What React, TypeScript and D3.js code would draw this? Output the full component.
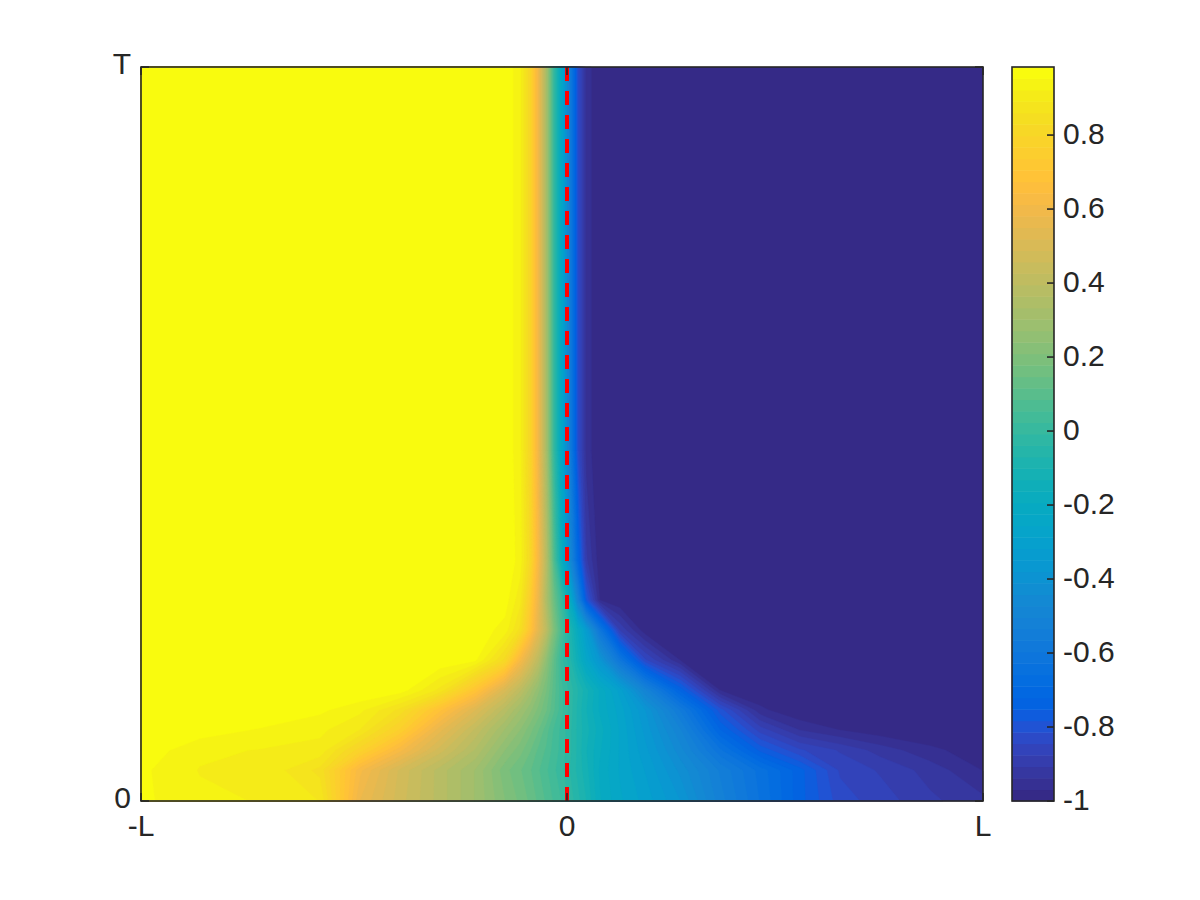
import React, { useMemo } from 'react';
import * as d3 from 'd3';

// Sampled columns, in units of L (-1 = -L, 1 = L)
const xGrid = [-1, -0.862, -0.721, -0.58, -0.486, -0.392, -0.298, -0.216, -0.146, -0.11, -0.087, -0.068, -0.049, -0.031, -0.012, 0.007, 0.026, 0.046, 0.079, 0.127, 0.188, 0.272, 0.368, 0.464, 0.56, 0.656, 0.752, 0.873, 1];
// Sampled rows, in units of T (0 = bottom, 1 = T)
const tGrid = [0, 0.042, 0.069, 0.097, 0.124, 0.151, 0.192, 0.233, 0.274, 0.328, 0.478, 1];

const uRow00 = [0.96, 0.93, 0.92, 0.89, 0.58, 0.47, 0.38, 0.3, 0.21, 0.17, 0.14, 0.11, 0.08, 0.05, 0.02, -0.02, -0.06, -0.1, -0.19, -0.25, -0.3, -0.38, -0.52, -0.63, -0.74, -0.83, -0.86, -0.9, -0.93];
const uRow01 = [0.96, 0.92, 0.92, 0.85, 0.62, 0.48, 0.38, 0.3, 0.19, 0.15, 0.12, 0.09, 0.06, 0.03, 0.0, -0.04, -0.08, -0.12, -0.2, -0.26, -0.32, -0.42, -0.54, -0.64, -0.74, -0.85, -0.88, -0.92, -0.97];
const uRow02 = [0.975, 0.93, 0.92, 0.91, 0.78, 0.62, 0.47, 0.36, 0.24, 0.19, 0.15, 0.11, 0.08, 0.04, 0.01, -0.03, -0.08, -0.13, -0.19, -0.26, -0.34, -0.46, -0.62, -0.76, -0.84, -0.88, -0.92, -0.96, -0.99];
const uRow03 = [0.984, 0.97, 0.95, 0.93, 0.89, 0.76, 0.56, 0.42, 0.3, 0.24, 0.19, 0.15, 0.1, 0.05, 0.01, -0.03, -0.08, -0.12, -0.18, -0.26, -0.36, -0.5, -0.72, -0.86, -0.94, -0.97, -0.99, -1, -1];
const uRow04 = [0.984, 0.984, 0.984, 0.96, 0.93, 0.85, 0.68, 0.52, 0.38, 0.3, 0.25, 0.2, 0.15, 0.09, 0.03, -0.02, -0.08, -0.13, -0.2, -0.27, -0.38, -0.57, -0.8, -0.96, -1, -1, -1, -1, -1];
const uRow05 = [0.984, 0.984, 0.984, 0.984, 0.984, 0.97, 0.88, 0.7, 0.5, 0.4, 0.32, 0.25, 0.18, 0.1, 0.03, -0.02, -0.07, -0.12, -0.2, -0.3, -0.5, -0.73, -0.97, -1, -1, -1, -1, -1, -1];
const uRow06 = [0.984, 0.984, 0.984, 0.984, 0.984, 0.984, 0.98, 0.96, 0.82, 0.62, 0.5, 0.4, 0.25, 0.12, 0.0, -0.06, -0.15, -0.25, -0.38, -0.6, -0.84, -0.97, -1, -1, -1, -1, -1, -1, -1];
const uRow07 = [0.984, 0.984, 0.984, 0.984, 0.984, 0.984, 0.984, 0.975, 0.94, 0.85, 0.7, 0.55, 0.4, 0.2, 0.05, -0.08, -0.2, -0.33, -0.6, -0.88, -0.99, -1, -1, -1, -1, -1, -1, -1, -1];
const uRow08 = [0.984, 0.984, 0.984, 0.984, 0.984, 0.984, 0.984, 0.984, 0.97, 0.9, 0.75, 0.58, 0.35, 0.15, 0.0, -0.2, -0.5, -0.78, -0.97, -1, -1, -1, -1, -1, -1, -1, -1, -1, -1];
const uRow09 = [0.984, 0.984, 0.984, 0.984, 0.984, 0.984, 0.984, 0.984, 0.98, 0.94, 0.82, 0.62, 0.38, 0.08, -0.18, -0.45, -0.7, -0.9, -0.99, -1, -1, -1, -1, -1, -1, -1, -1, -1, -1];
const uRow10 = [0.984, 0.984, 0.984, 0.984, 0.984, 0.984, 0.984, 0.984, 0.98, 0.93, 0.8, 0.6, 0.33, 0.0, -0.25, -0.55, -0.82, -0.95, -1, -1, -1, -1, -1, -1, -1, -1, -1, -1, -1];
const uRow11 = [0.984, 0.984, 0.984, 0.984, 0.984, 0.984, 0.984, 0.984, 0.98, 0.93, 0.8, 0.6, 0.33, 0.0, -0.25, -0.55, -0.82, -0.95, -1, -1, -1, -1, -1, -1, -1, -1, -1, -1, -1];
const fieldRows = [uRow00, uRow01, uRow02, uRow03, uRow04, uRow05, uRow06, uRow07, uRow08, uRow09, uRow10, uRow11];

const xTickValues = [-1, 0, 1];
const xTickLabels = ['-L', '0', 'L'];
const tTickValues = [0, 1];
const tTickLabels = ['0', 'T'];
const colorTickValues = [-1, -0.8, -0.6, -0.4, -0.2, 0, 0.2, 0.4, 0.6, 0.8];
const colorMin = -1;
const colorMax = 0.984;
const interfaceX = 0;

// parula colormap (64 entries)
const parula: number[][] = [
  [0.2081, 0.1663, 0.5292], [0.2116, 0.1898, 0.5777], [0.2123, 0.2138, 0.627], [0.2081, 0.2386, 0.6771],
  [0.1959, 0.2645, 0.7279], [0.1707, 0.2919, 0.7792], [0.1253, 0.3242, 0.8303], [0.0591, 0.3598, 0.8683],
  [0.0117, 0.3875, 0.882], [0.006, 0.4086, 0.8828], [0.0165, 0.4266, 0.8786], [0.0329, 0.443, 0.872],
  [0.0498, 0.4586, 0.8641], [0.0629, 0.4737, 0.8554], [0.0723, 0.4887, 0.8467], [0.0779, 0.504, 0.8384],
  [0.0793, 0.52, 0.8312], [0.0749, 0.5375, 0.8263], [0.0641, 0.557, 0.824], [0.0488, 0.5772, 0.8228],
  [0.0343, 0.5966, 0.8199], [0.0265, 0.6137, 0.8135], [0.0239, 0.6287, 0.8038], [0.0231, 0.6418, 0.7913],
  [0.0228, 0.6535, 0.7768], [0.0267, 0.6642, 0.7607], [0.0384, 0.6743, 0.7436], [0.059, 0.6838, 0.7254],
  [0.0843, 0.6928, 0.7062], [0.1133, 0.7015, 0.6859], [0.1453, 0.7098, 0.6646], [0.1801, 0.7177, 0.6424],
  [0.2178, 0.725, 0.6193], [0.2586, 0.7317, 0.5954], [0.3022, 0.7376, 0.5712], [0.3482, 0.7424, 0.5473],
  [0.3953, 0.7459, 0.5244], [0.442, 0.7481, 0.5033], [0.4871, 0.7491, 0.484], [0.53, 0.7491, 0.4661],
  [0.5709, 0.7485, 0.4494], [0.6099, 0.7473, 0.4337], [0.6473, 0.7456, 0.4188], [0.6834, 0.7435, 0.4044],
  [0.7184, 0.7411, 0.3905], [0.7525, 0.7384, 0.3768], [0.7858, 0.7356, 0.3633], [0.8185, 0.7327, 0.3498],
  [0.8507, 0.7299, 0.336], [0.8824, 0.7274, 0.3217], [0.9139, 0.7258, 0.3063], [0.945, 0.7261, 0.2886],
  [0.9739, 0.7314, 0.2666], [0.9938, 0.7455, 0.2403], [0.999, 0.7653, 0.2164], [0.9955, 0.7861, 0.1967],
  [0.988, 0.8066, 0.1794], [0.9789, 0.8271, 0.1633], [0.9697, 0.8481, 0.1475], [0.9626, 0.8705, 0.1309],
  [0.9589, 0.8949, 0.1132], [0.9598, 0.9218, 0.0948], [0.9661, 0.9514, 0.0755], [0.9763, 0.9831, 0.0538],
];

const AX = { left: 141, right: 983, top: 67, bottom: 801 };
const CB = { left: 1012, right: 1054 };
const INK = '#262626';
const FONT = "'Liberation Sans', Arial, Helvetica, sans-serif";
const FS = 30;

export default function App() {
  const xScale = d3.scaleLinear().domain([-1, 0, 1]).range([AX.left, 567, AX.right]);
  const yScale = d3.scaleLinear().domain([0, 1]).range([AX.bottom, AX.top]);
  const cScale = d3.scaleLinear().domain([colorMin, colorMax]).range([AX.bottom, AX.top]);
  const nLevels = parula.length;
  const step = (colorMax - colorMin) / nLevels;
  const thresholds = d3.range(nLevels).map((k) => colorMin + k * step);
  const colors = parula.map(([r, g, b]) => d3.rgb(r * 255, g * 255, b * 255).formatHex());

  const bands = useMemo(() => {
    const nx = xGrid.length;
    const ny = tGrid.length;
    const values = fieldRows.flat();
    const probe = d3.contours().size([2, 1]).thresholds([0.5])([0, 1]);
    let minX = Infinity;
    probe[0].coordinates.forEach((poly: any) => poly.forEach((ring: any) => ring.forEach((p: any) => { minX = Math.min(minX, p[0]); })));
    const off = minX - 0.5;
    const lerpIdx = (arr: number[], c: number) => {
      const v = Math.max(0, Math.min(arr.length - 1, c - off));
      const i = Math.min(arr.length - 2, Math.floor(v));
      const f = v - i;
      return arr[i] + f * (arr[i + 1] - arr[i]);
    };
    const proj = d3.geoTransform({
      point(x: number, y: number) {
        (this as any).stream.point(xScale(lerpIdx(xGrid, x)), yScale(lerpIdx(tGrid, y)));
      },
    });
    const path = d3.geoPath(proj);
    const cs = d3.contours().size([nx, ny]).thresholds(thresholds.slice(1))(values);
    return cs.map((c: any, k: number) => ({ d: path(c) || '', fill: colors[k + 1] }));
  }, []);

  const x0 = xScale(interfaceX);

  return (
    <svg width={1200} height={900} style={{ position: 'absolute', left: 0, top: 0, background: '#fff' }}>
      <rect x={0} y={0} width={1200} height={900} fill="#fff" />
      <g>
        <rect x={AX.left} y={AX.top} width={AX.right - AX.left} height={AX.bottom - AX.top} fill={colors[0]} />
        {bands.map((b, i) => (
          <path key={i} d={b.d} fill={b.fill} stroke={b.fill} strokeWidth={0.4} />
        ))}
      </g>
      <line x1={x0} x2={x0} y1={AX.top} y2={AX.bottom} stroke="#ff0000" strokeWidth={4} strokeDasharray="14 10" />
      {/* axes box */}
      <rect x={AX.left} y={AX.top} width={AX.right - AX.left} height={AX.bottom - AX.top} fill="none" stroke={INK} strokeWidth={1.6} />
      {xTickValues.map((v, i) => (
        <g key={'xt' + i}>
          <line x1={xScale(v)} x2={xScale(v)} y1={AX.bottom} y2={AX.bottom - 8} stroke={INK} strokeWidth={1.6} />
          <line x1={xScale(v)} x2={xScale(v)} y1={AX.top} y2={AX.top + 8} stroke={INK} strokeWidth={1.6} />
          <text x={xScale(v)} y={AX.bottom + 35} textAnchor="middle" fontFamily={FONT} fontSize={FS} fill={INK}>{xTickLabels[i]}</text>
        </g>
      ))}
      {tTickValues.map((v, i) => (
        <g key={'yt' + i}>
          <line x1={AX.left} x2={AX.left + 8} y1={yScale(v)} y2={yScale(v)} stroke={INK} strokeWidth={1.6} />
          <line x1={AX.right} x2={AX.right - 8} y1={yScale(v)} y2={yScale(v)} stroke={INK} strokeWidth={1.6} />
          <text x={AX.left - 10} y={yScale(v) + 7} textAnchor="end" fontFamily={FONT} fontSize={FS} fill={INK}>{tTickLabels[i]}</text>
        </g>
      ))}
      {/* colorbar */}
      <g>
        {thresholds.map((th, k) => (
          <rect key={'cb' + k} x={CB.left} width={CB.right - CB.left} y={cScale(th + step)} height={cScale(th) - cScale(th + step) + 0.5} fill={colors[k]} />
        ))}
        <rect x={CB.left} y={AX.top} width={CB.right - CB.left} height={AX.bottom - AX.top} fill="none" stroke={INK} strokeWidth={1.6} />
        {colorTickValues.map((v) => (
          <g key={'ct' + v}>
            <line x1={CB.right} x2={CB.right - 7} y1={cScale(v)} y2={cScale(v)} stroke={INK} strokeWidth={1.6} />
            <text x={CB.right + 9} y={cScale(v) + 9} fontFamily={FONT} fontSize={FS} fill={INK}>{String(+v.toFixed(1))}</text>
          </g>
        ))}
      </g>
    </svg>
  );
}
